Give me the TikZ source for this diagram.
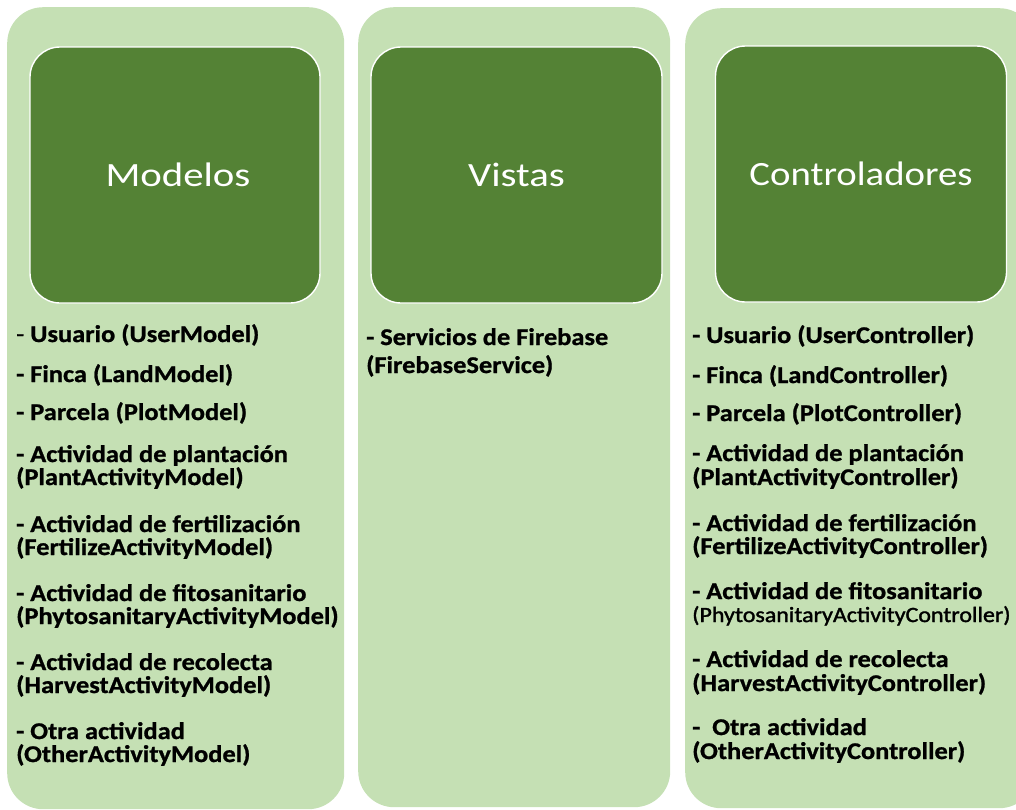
\documentclass[tikz,border=0pt]{standalone}
\usepackage{fontspec}
\setmainfont{Carlito}
\newfontfamily\listfont[FakeStretch=1.1,FakeBold=1.0]{Carlito}
\newfontfamily\smallfont[FakeStretch=1.1,FakeBold=1.6]{Carlito}
\newfontfamily\titlefont[FakeStretch=1.2]{Carlito}
\definecolor{lightg}{HTML}{C5E0B4}
\definecolor{darkg}{HTML}{548235}
\tikzset{
  col/.style={fill=lightg, draw=none, rounded corners=36pt, anchor=north west, inner sep=0pt},
  head/.style={fill=darkg, draw=white, line width=1.4pt, rounded corners=30pt, inner sep=0pt,
    text=white, font=\titlefont\fontsize{34}{36}\selectfont},
  item/.style={anchor=base west, inner sep=0pt, text=black, font=\listfont\bfseries\fontsize{24}{26}\selectfont},
  smallitem/.style={item, font=\smallfont\fontsize{21.8}{24}\selectfont}
}
\begin{document}
\begin{tikzpicture}[x=1pt,y=-1pt]
\useasboundingbox (0,0) rectangle (1016,809);
\clip (0,0) rectangle (1016,809);
% columns
\node[col, minimum width=337pt, minimum height=802pt] (colM) at (7,7) {};
\node[col, minimum width=312pt, minimum height=800pt] (colV) at (358,7) {};
\node[col, minimum width=350pt, minimum height=800pt] (colC) at (685,8) {};
% headers
\node[head, minimum width=290pt, minimum height=256pt] (hM) at (175,175) {\hspace*{6pt}Modelos};
\node[head, minimum width=291pt, minimum height=256pt] (hV) at (516.5,175) {Vistas};
\node[head, minimum width=291pt, minimum height=256pt] (hC) at (861,174) {\scalebox{0.95}[1]{Controladores}};
% Modelos list
\node[item] (m1) at (16,342) {{\mdseries -} Usuario (UserModel)};
\node[item] (m2) at (16,382) {- Finca (LandModel)};
\node[item] (m3) at (16,420) {- Parcela (PlotModel)};
\node[item] (m4a) at (16,462) {- Actividad de plantación};
\node[item] (m4b) at (16,485) {(PlantActivityModel)};
\node[item] (m5a) at (16,532) {- Actividad de fertilización};
\node[item] (m5b) at (16,555) {(FertilizeActivityModel)};
\node[item] (m6a) at (16,601) {- Actividad de fitosanitario};
\node[item] (m6b) at (16,624) {(PhytosanitaryActivityModel)};
\node[item] (m7a) at (16,670) {- Actividad de recolecta};
\node[item] (m7b) at (16,693) {(HarvestActivityModel)};
\node[item] (m8a) at (16,739) {- Otra actividad};
\node[item] (m8b) at (16,762) {(OtherActivityModel)};
% Vistas list
\node[item] (v1a) at (366,345) {- Servicios de Firebase};
\node[item] (v1b) at (366,373) {(FirebaseService)};
% Controladores list
\node[item] (c1) at (692,343) {- Usuario (UserController)};
\node[item] (c2) at (692,383) {- Finca (LandController)};
\node[item] (c3) at (692,421) {- Parcela (PlotController)};
\node[item] (c4a) at (692,461) {- Actividad de plantación};
\node[item] (c4b) at (692,485) {(PlantActivityController)};
\node[item] (c5a) at (692,531) {- Actividad de fertilización};
\node[item] (c5b) at (692,554) {(FertilizeActivityController)};
\node[item] (c6a) at (692,599) {- Actividad de fitosanitario};
\node[smallitem] (c6b) at (692,622) {(PhytosanitaryActivityController)};
\node[item] (c7a) at (692,667) {- Actividad de recolecta};
\node[item] (c7b) at (692,691) {(HarvestActivityController)};
\node[item] (c8a) at (692,735) {-\ \ Otra actividad};
\node[item] (c8b) at (692,759) {(OtherActivityController)};
\end{tikzpicture}
\end{document}
